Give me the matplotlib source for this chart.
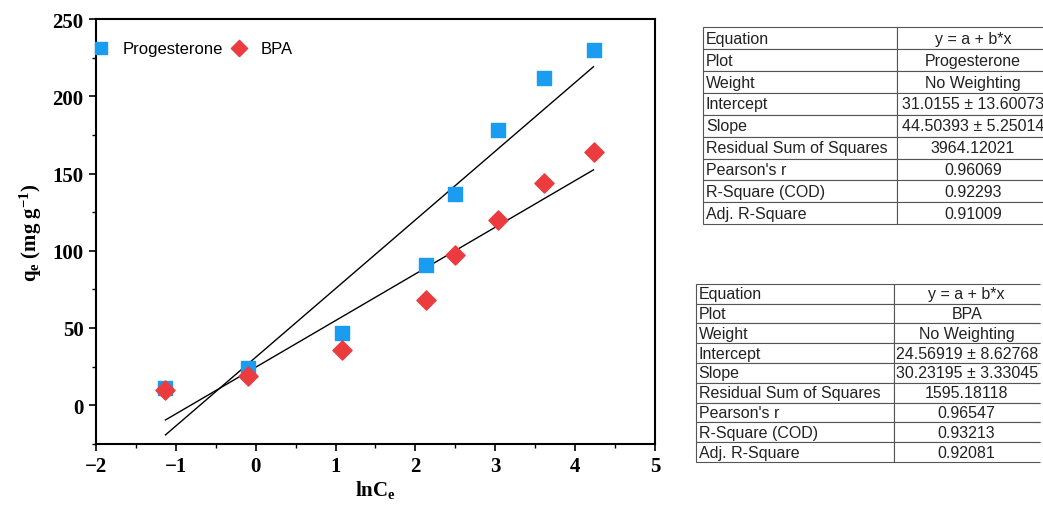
import numpy as np
import matplotlib
matplotlib.use("Agg")
import matplotlib.pyplot as plt
from matplotlib.ticker import MultipleLocator

plt.rcParams["mathtext.fontset"] = "custom"
plt.rcParams["mathtext.rm"] = "Liberation Serif:bold"
plt.rcParams["mathtext.it"] = "Liberation Serif:bold"
plt.rcParams["mathtext.bf"] = "Liberation Serif:bold"

# data
ln_ce = [-1.13, -0.10, 1.08, 2.13, 2.49, 3.03, 3.61, 4.23]
q_prog = [11, 24, 47, 91, 137, 178, 212, 230]
q_bpa = [10, 19, 36, 68, 97, 120, 144, 164]

fit_prog = (31.0155, 44.50393)
fit_bpa = (24.56919, 30.23195)

row_names = ["Equation", "Plot", "Weight", "Intercept", "Slope",
             "Residual Sum of Squares", "Pearson's r", "R-Square (COD)",
             "Adj. R-Square"]
vals_prog = ["y = a + b*x", "Progesterone", "No Weighting",
             "31.0155 ± 13.60073", "44.50393 ± 5.25014", "3964.12021",
             "0.96069", "0.92293", "0.91009"]
vals_bpa = ["y = a + b*x", "BPA", "No Weighting",
            "24.56919 ± 8.62768", "30.23195 ± 3.33045", "1595.18118",
            "0.96547", "0.93213", "0.92081"]

fig = plt.figure(figsize=(10.43, 5.06), dpi=100)
ax = fig.add_axes([0.092, 0.121, 0.536, 0.839])

ax.scatter(ln_ce, q_prog, marker="s", s=110, color="#1a9cf0", label="Progesterone", zorder=3)
ax.scatter(ln_ce, q_bpa, marker="D", s=95, color="#ec3b3f", label="BPA", zorder=3)

xs = np.array([min(ln_ce), max(ln_ce)])
ax.plot(xs, fit_prog[0] + fit_prog[1] * xs, color="black", lw=1.0, zorder=2)
ax.plot(xs, fit_bpa[0] + fit_bpa[1] * xs, color="black", lw=1.0, zorder=2)

ax.set_xlim(-2, 5)
ax.set_ylim(-25, 250)
ax.xaxis.set_major_locator(MultipleLocator(1))
ax.xaxis.set_minor_locator(MultipleLocator(0.5))
ax.yaxis.set_major_locator(MultipleLocator(50))
ax.yaxis.set_minor_locator(MultipleLocator(25))
ax.tick_params(which="major", direction="out", length=5, width=1.2, pad=4)
ax.tick_params(which="minor", direction="out", length=3, width=1.0)
for lab in ax.get_xticklabels() + ax.get_yticklabels():
    lab.set_fontfamily("Liberation Serif")
    lab.set_fontweight("bold")
    lab.set_fontsize(15)
for sp in ax.spines.values():
    sp.set_linewidth(1.5)

ax.set_xlabel(r"lnC$_{\rm e}$", fontsize=15, family="Liberation Serif", fontweight="bold", labelpad=1)
ax.set_ylabel(r"q$_{\rm e}$ (mg g$^{-1}$)", fontsize=15, family="Liberation Serif", fontweight="bold", labelpad=6)

ax.legend(loc="upper left", ncol=2, frameon=False, prop={"family": "Liberation Sans", "size": 12},
          handlelength=1.2, handletextpad=0.65, columnspacing=0.4,
          borderaxespad=0, bbox_to_anchor=(-0.02, 0.965), markerscale=0.85)


def draw_table(rect, names, vals, col_frac, open_right=False):
    tax = fig.add_axes(rect)
    tax.axis("off")
    cells = [[n, v] for n, v in zip(names, vals)]
    tb = tax.table(cellText=cells, colWidths=col_frac, bbox=[0, 0, 1, 1])
    tb.auto_set_font_size(False)
    for (r, c), cell in tb.get_celld().items():
        cell.set_edgecolor("#555555")
        cell.set_linewidth(0.8)
        cell.get_text().set_fontfamily("Liberation Sans")
        cell.get_text().set_fontsize(11.5)
        cell.get_text().set_color("#222222")
        if c == 0:
            cell.get_text().set_ha("left")
            cell.PAD = 0.015
        else:
            cell.get_text().set_ha("center")
            if open_right:
                cell.visible_edges = "BTL"
    return tb


draw_table([0.674, 0.555, 0.3317, 0.389], row_names, vals_prog, [0.561, 0.439])
draw_table([0.667, 0.085, 0.3298, 0.352], row_names, vals_bpa, [0.5756, 0.4244], open_right=True)

fig.savefig("out.png", dpi=100)
